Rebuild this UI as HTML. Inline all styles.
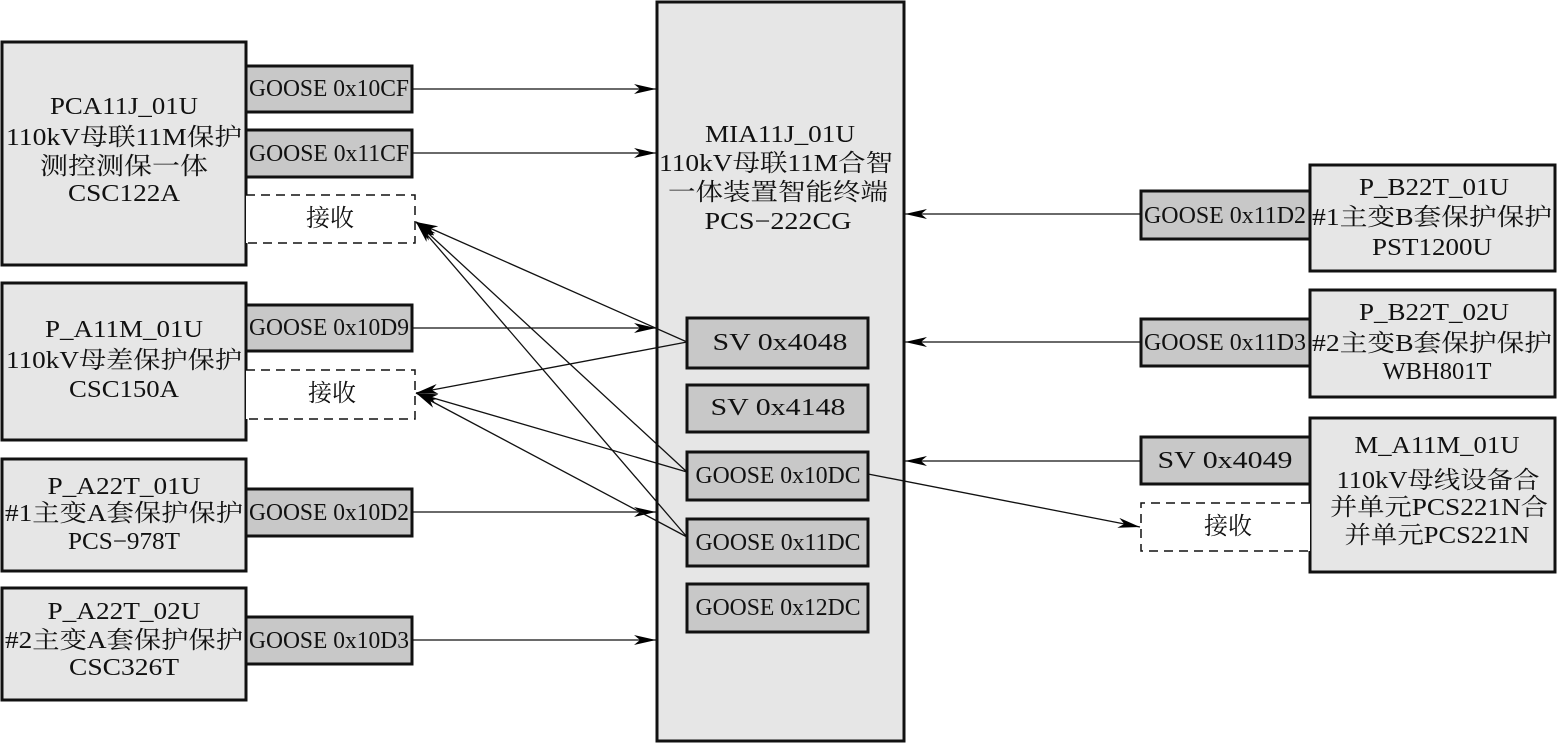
<!DOCTYPE html>
<html><head><meta charset="utf-8"><style>
html,body{margin:0;padding:0;background:#fff;}
svg{display:block;}
text{font-family:"Liberation Serif","Noto Serif CJK SC","Noto Sans CJK SC",serif;font-size:24px;fill:#111;dominant-baseline:central;text-anchor:middle;}
</style></head><body>
<svg width="1558" height="744" viewBox="0 0 1558 744" xmlns="http://www.w3.org/2000/svg">
<defs>
<marker id="a" markerWidth="22" markerHeight="10" refX="22" refY="5" orient="auto" markerUnits="userSpaceOnUse">
<path d="M0,0 L22,5 L0,10 L6,5 Z" fill="#000"/>
</marker>
</defs>
<g stroke="#111" stroke-width="3">
<!-- left big boxes -->
<rect x="2" y="42" width="244" height="223" fill="#e6e6e6"/>
<rect x="2" y="283" width="244" height="157" fill="#e6e6e6"/>
<rect x="2" y="459" width="244" height="112" fill="#e6e6e6"/>
<rect x="2" y="588" width="244" height="112" fill="#e6e6e6"/>
<!-- left gooses -->
<rect x="246" y="66" width="166" height="46" fill="#c8c8c8"/>
<rect x="246" y="130" width="166" height="47" fill="#c8c8c8"/>
<rect x="246" y="305" width="166" height="46" fill="#c8c8c8"/>
<rect x="246" y="489" width="166" height="47" fill="#c8c8c8"/>
<rect x="246" y="617" width="166" height="47" fill="#c8c8c8"/>
<!-- center -->
<rect x="657" y="2" width="247" height="739" fill="#e6e6e6"/>
<rect x="687" y="318" width="181" height="50" fill="#c8c8c8"/>
<rect x="687" y="385" width="181" height="47" fill="#c8c8c8"/>
<rect x="687" y="452" width="181" height="48" fill="#c8c8c8"/>
<rect x="687" y="519" width="181" height="47" fill="#c8c8c8"/>
<rect x="687" y="584" width="181" height="48" fill="#c8c8c8"/>
<!-- right -->
<rect x="1310" y="165" width="245" height="106" fill="#e6e6e6"/>
<rect x="1310" y="290" width="245" height="107" fill="#e6e6e6"/>
<rect x="1310" y="418" width="245" height="154" fill="#e6e6e6"/>
<rect x="1141" y="191" width="169" height="48" fill="#c8c8c8"/>
<rect x="1141" y="319" width="169" height="47" fill="#c8c8c8"/>
<rect x="1141" y="437" width="169" height="47" fill="#c8c8c8"/>
</g>
<g stroke="#111" stroke-width="1.5" fill="#fff" stroke-dasharray="9,6">
<path d="M246,195 H415 V243 H246"/>
<path d="M246,370 H415 V419 H246"/>
<path d="M1310,503 H1141 V551 H1310"/>
</g>
<g stroke="#111" stroke-width="1.3" fill="none" marker-end="url(#a)">
<line x1="412" y1="89" x2="656" y2="89"/>
<line x1="412" y1="153" x2="656" y2="153"/>
<line x1="412" y1="328" x2="656" y2="328"/>
<line x1="412" y1="512" x2="656" y2="512"/>
<line x1="412" y1="640" x2="656" y2="640"/>
<line x1="1141" y1="214" x2="905" y2="214"/>
<line x1="1141" y1="342" x2="905" y2="342"/>
<line x1="1141" y1="461" x2="905" y2="461"/>
<line x1="868" y1="474" x2="1140" y2="527"/>
<line x1="687" y1="342" x2="416" y2="222"/>
<line x1="687" y1="472" x2="416" y2="222"/>
<line x1="687" y1="537" x2="416" y2="222"/>
<line x1="687" y1="342" x2="416" y2="393"/>
<line x1="687" y1="472" x2="416" y2="393"/>
<line x1="687" y1="537" x2="416" y2="393"/>
</g>
<g>
<text x="124" y="107" textLength="148" lengthAdjust="spacingAndGlyphs">PCA11J_01U</text>
<text x="124" y="138" textLength="236" lengthAdjust="spacingAndGlyphs">110kV母联11M保护</text>
<text x="124" y="167" textLength="168" lengthAdjust="spacingAndGlyphs">测控测保一体</text>
<text x="124" y="194" textLength="112" lengthAdjust="spacingAndGlyphs">CSC122A</text>
<text x="124" y="330" textLength="158" lengthAdjust="spacingAndGlyphs">P_A11M_01U</text>
<text x="124" y="361" textLength="236" lengthAdjust="spacingAndGlyphs">110kV母差保护保护</text>
<text x="124" y="390" textLength="110" lengthAdjust="spacingAndGlyphs">CSC150A</text>
<text x="124" y="487" textLength="153" lengthAdjust="spacingAndGlyphs">P_A22T_01U</text>
<text x="124" y="514" textLength="238" lengthAdjust="spacingAndGlyphs">#1主变A套保护保护</text>
<text x="124" y="542" textLength="112" lengthAdjust="spacingAndGlyphs">PCS−978T</text>
<text x="124" y="612" textLength="153" lengthAdjust="spacingAndGlyphs">P_A22T_02U</text>
<text x="124" y="641" textLength="238" lengthAdjust="spacingAndGlyphs">#2主变A套保护保护</text>
<text x="124" y="668" textLength="110" lengthAdjust="spacingAndGlyphs">CSC326T</text>
<text x="329" y="89" textLength="160" lengthAdjust="spacingAndGlyphs">GOOSE 0x10CF</text>
<text x="329" y="154" textLength="160" lengthAdjust="spacingAndGlyphs">GOOSE 0x11CF</text>
<text x="330" y="219">接收</text>
<text x="329" y="328" textLength="160" lengthAdjust="spacingAndGlyphs">GOOSE 0x10D9</text>
<text x="332" y="394">接收</text>
<text x="329" y="513" textLength="160" lengthAdjust="spacingAndGlyphs">GOOSE 0x10D2</text>
<text x="329" y="641" textLength="160" lengthAdjust="spacingAndGlyphs">GOOSE 0x10D3</text>
<text x="780" y="135" textLength="150" lengthAdjust="spacingAndGlyphs">MIA11J_01U</text>
<text x="776" y="164" textLength="234" lengthAdjust="spacingAndGlyphs">110kV母联11M合智</text>
<text x="778" y="193" textLength="220" lengthAdjust="spacingAndGlyphs">一体装置智能终端</text>
<text x="778" y="222" textLength="147" lengthAdjust="spacingAndGlyphs">PCS−222CG</text>
<text x="780" y="343" textLength="135" lengthAdjust="spacingAndGlyphs">SV  0x4048</text>
<text x="778" y="408" textLength="135" lengthAdjust="spacingAndGlyphs">SV  0x4148</text>
<text x="778" y="476" textLength="165" lengthAdjust="spacingAndGlyphs">GOOSE 0x10DC</text>
<text x="778" y="543" textLength="165" lengthAdjust="spacingAndGlyphs">GOOSE 0x11DC</text>
<text x="778" y="608" textLength="165" lengthAdjust="spacingAndGlyphs">GOOSE 0x12DC</text>
<text x="1225" y="216" textLength="162" lengthAdjust="spacingAndGlyphs">GOOSE 0x11D2</text>
<text x="1225" y="343" textLength="162" lengthAdjust="spacingAndGlyphs">GOOSE 0x11D3</text>
<text x="1225" y="461" textLength="135" lengthAdjust="spacingAndGlyphs">SV  0x4049</text>
<text x="1228" y="527">接收</text>
<text x="1434" y="188" textLength="150" lengthAdjust="spacingAndGlyphs">P_B22T_01U</text>
<text x="1432" y="218" textLength="240" lengthAdjust="spacingAndGlyphs">#1主变B套保护保护</text>
<text x="1432" y="248" textLength="120" lengthAdjust="spacingAndGlyphs">PST1200U</text>
<text x="1434" y="313" textLength="150" lengthAdjust="spacingAndGlyphs">P_B22T_02U</text>
<text x="1432" y="344" textLength="240" lengthAdjust="spacingAndGlyphs">#2主变B套保护保护</text>
<text x="1437" y="372" textLength="109" lengthAdjust="spacingAndGlyphs">WBH801T</text>
<text x="1437" y="446" textLength="165" lengthAdjust="spacingAndGlyphs">M_A11M_01U</text>
<text x="1438" y="481" textLength="203" lengthAdjust="spacingAndGlyphs">110kV母线设备合</text>
<text x="1439" y="508" textLength="218" lengthAdjust="spacingAndGlyphs">并单元PCS221N合</text>
<text x="1437" y="536" textLength="185" lengthAdjust="spacingAndGlyphs">并单元PCS221N</text>
</g>
</svg>
</body></html>
